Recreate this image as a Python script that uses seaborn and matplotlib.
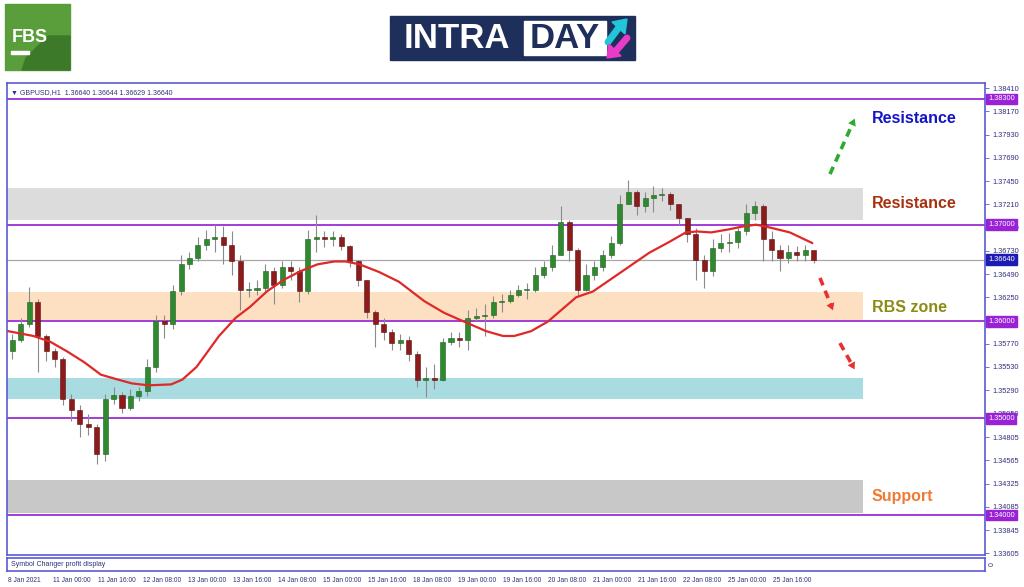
import seaborn as sns
import matplotlib.pyplot as plt
from matplotlib.patches import Rectangle, Polygon
from matplotlib.transforms import blended_transform_factory
import pandas as pd

# GBPUSD, candles (3-hour buckets), first open then closes/highs/lows
first_open = 1.3569
closes = [1.3581, 1.3597, 1.3620, 1.3585, 1.3569, 1.3561, 1.3520, 1.3509, 1.3494, 1.3491,
          1.3463, 1.3520, 1.3524, 1.3511, 1.3523, 1.3528, 1.3553, 1.3600, 1.3597, 1.3631,
          1.3659, 1.3666, 1.3679, 1.3685, 1.3687, 1.3679, 1.3662, 1.3633, 1.3633, 1.3635,
          1.3652, 1.3638, 1.3656, 1.3652, 1.3631, 1.3685, 1.3687, 1.3685, 1.3687, 1.3678,
          1.3662, 1.3643, 1.3610, 1.3597, 1.3589, 1.3578, 1.3581, 1.3566, 1.3540, 1.3542,
          1.3540, 1.3579, 1.3583, 1.3581, 1.3604, 1.3606, 1.3607, 1.3620, 1.3621, 1.3627,
          1.3633, 1.3633, 1.3648, 1.3656, 1.3669, 1.3703, 1.3674, 1.3633, 1.3648, 1.3656,
          1.3669, 1.3681, 1.3721, 1.3734, 1.3719, 1.3728, 1.3731, 1.3732, 1.3721, 1.3707,
          1.3690, 1.3664, 1.3652, 1.3676, 1.3681, 1.3682, 1.3693, 1.3712, 1.3719, 1.3685,
          1.3674, 1.3666, 1.3672, 1.3669, 1.3674, 1.3664]
highs = [1.3587, 1.3604, 1.3636, 1.3623, 1.3587, 1.3573, 1.3563, 1.3525, 1.3514, 1.3504,
         1.3494, 1.3525, 1.3532, 1.3527, 1.3530, 1.3532, 1.3561, 1.3607, 1.3607, 1.3638,
         1.3669, 1.3672, 1.3687, 1.3695, 1.3700, 1.3699, 1.3693, 1.3669, 1.3641, 1.3643,
         1.3659, 1.3656, 1.3662, 1.3662, 1.3656, 1.3695, 1.3710, 1.3693, 1.3693, 1.3690,
         1.3679, 1.3664, 1.3643, 1.3612, 1.3604, 1.3592, 1.3587, 1.3585, 1.3569, 1.3553,
         1.3556, 1.3583, 1.3589, 1.3589, 1.3612, 1.3614, 1.3618, 1.3626, 1.3628, 1.3633,
         1.3638, 1.3640, 1.3656, 1.3662, 1.3679, 1.3719, 1.3705, 1.3676, 1.3659, 1.3662,
         1.3674, 1.3688, 1.3731, 1.3746, 1.3736, 1.3734, 1.3740, 1.3738, 1.3734, 1.3721,
         1.3707, 1.3697, 1.3669, 1.3685, 1.3690, 1.3691, 1.3697, 1.3721, 1.3724, 1.3721,
         1.3693, 1.3679, 1.3679, 1.3678, 1.3679, 1.3674]
lows = [1.3561, 1.3579, 1.3594, 1.3548, 1.3559, 1.3553, 1.3514, 1.3497, 1.3481, 1.3483,
        1.3453, 1.3456, 1.3515, 1.3505, 1.3509, 1.3518, 1.3523, 1.3548, 1.3583, 1.3592,
        1.3627, 1.3654, 1.3662, 1.3674, 1.3672, 1.3659, 1.3648, 1.3612, 1.3625, 1.3627,
        1.3631, 1.3618, 1.3635, 1.3643, 1.3620, 1.3628, 1.3672, 1.3677, 1.3678, 1.3674,
        1.3656, 1.3637, 1.3604, 1.3574, 1.3581, 1.3571, 1.3571, 1.3559, 1.3532, 1.3522,
        1.3530, 1.3538, 1.3576, 1.3574, 1.3571, 1.3600, 1.3585, 1.3604, 1.3610, 1.3619,
        1.3625, 1.3623, 1.3630, 1.3645, 1.3652, 1.3669, 1.3662, 1.3625, 1.3631, 1.3643,
        1.3652, 1.3666, 1.3679, 1.3721, 1.3710, 1.3713, 1.3713, 1.3724, 1.3715, 1.3700,
        1.3682, 1.3643, 1.3635, 1.3647, 1.3672, 1.3672, 1.3676, 1.3689, 1.3705, 1.3662,
        1.3662, 1.3652, 1.3660, 1.3662, 1.3662, 1.3660]

# red moving average, read at hourly positions
ma_hours = [0, 9, 15, 21, 27, 33, 39, 44, 50, 58, 62, 67, 71, 75, 81, 86, 92, 98, 104, 110,
            116, 120, 125, 132, 139, 148, 155, 162, 170, 176, 180, 186, 192, 198, 202, 208,
            214, 221, 228, 235, 241, 245, 250, 256, 261, 266, 271, 278, 286]
ma_values = [1.3590, 1.3585, 1.3579, 1.3569, 1.3558, 1.3545, 1.3540, 1.3536, 1.3534, 1.3535,
             1.3540, 1.3553, 1.3569, 1.3585, 1.3604, 1.3615, 1.3631, 1.3643, 1.3652, 1.3659,
             1.3662, 1.3662, 1.3659, 1.3651, 1.3641, 1.3621, 1.3609, 1.3600, 1.3590, 1.3585,
             1.3585, 1.3590, 1.3600, 1.3615, 1.3625, 1.3631, 1.3643, 1.3657, 1.3671, 1.3682,
             1.3692, 1.3693, 1.3692, 1.3695, 1.3698, 1.3700, 1.3697, 1.3692, 1.3681]

xtick_labels = ["8 Jan 2021", "11 Jan 00:00", "11 Jan 16:00", "12 Jan 08:00", "13 Jan 00:00",
                "13 Jan 16:00", "14 Jan 08:00", "15 Jan 00:00", "15 Jan 16:00", "18 Jan 08:00",
                "19 Jan 00:00", "19 Jan 16:00", "20 Jan 08:00", "21 Jan 00:00", "21 Jan 16:00",
                "22 Jan 08:00", "25 Jan 00:00", "25 Jan 16:00"]
# 1.36010 sits fully under the 1.36000 level box in the reference, so it is not listed
ytick_values = [1.38410, 1.38170, 1.37930, 1.37690, 1.37450, 1.37210, 1.36970, 1.36730,
                1.36490, 1.36250, 1.35770, 1.35530, 1.35290, 1.35050, 1.34805,
                1.34565, 1.34325, 1.34085, 1.33845, 1.33605]
levels = [1.38300, 1.37000, 1.36000, 1.35000, 1.34000]
last_price = 1.36640
zone_low = [1.3705, 1.3602, 1.3520, 1.3402]
zone_high = [1.3738, 1.3630, 1.3542, 1.3436]
zone_colors = ["#dcdcdc", "#fde0c2", "#a9dce0", "#c8c8c8"]
zone_names = ["Resistance", "Resistance", "RBS zone", "Support"]
zone_name_colors = ["#1414c8", "#a8320f", "#8c8c14", "#f07a34"]
zone_name_y = [1.3810, 1.3722, 1.3614, 1.3419]

sns.set_style("white")
plt.rcParams["font.family"] = ["Liberation Sans", "DejaVu Sans"]

fig = plt.figure(figsize=(10.24, 5.87), dpi=100)
W, H = 1024, 587

def fx(px):
    return px / W

def fy(py):
    return 1 - py / H

ax = fig.add_axes([fx(7), fy(555), fx(985 - 7), (555 - 83) / H])
sub = fig.add_axes([fx(7), fy(571), fx(985 - 7), (571 - 558) / H])

frame = "#5a5ad6"
navy = "#30307a"
for a in (ax, sub):
    for s in a.spines.values():
        s.set_color(frame)
        s.set_linewidth(1.2)

# candles
opens = [first_open] + closes[:-1]
df = pd.DataFrame({"open": opens, "close": closes, "high": highs, "low": lows})
df["hour"] = [3 * i + 1.5 for i in range(len(df))]
df["up"] = df["close"] >= df["open"]
df["high"] = df[["high", "open", "close"]].max(axis=1)
df["low"] = df[["low", "open", "close"]].min(axis=1)

ax.vlines(df["hour"], df["low"], df["high"], color="#8a8a8a", lw=0.8, zorder=3)
body_lo = df[["open", "close"]].min(axis=1)
body_h = (df["close"] - df["open"]).abs().clip(lower=0.00004)
ax.bar(df["hour"], body_h, bottom=body_lo, width=1.8,
       color=["#2f8a2f" if u else "#8c1c1c" for u in df["up"]],
       edgecolor=["#1f5f1f" if u else "#5a1010" for u in df["up"]], lw=0.4, zorder=4)

sns.lineplot(x=ma_hours, y=ma_values, color="#e02828", lw=1.6, ax=ax, zorder=5)

# zones
for lo, hi, c in zip(zone_low, zone_high, zone_colors):
    ax.axhspan(lo, hi, xmin=0, xmax=(863 - 7) / 978, color=c, lw=0, zorder=1)

# levels and current price
for lv in levels:
    ax.axhline(lv, color="#a23cd8", lw=1.4, zorder=2)
ax.axhline(last_price, color="#a8a8a8", lw=0.9, zorder=2)

ax.set_xlim(-0.4, 347.4)
ax.set_ylim(1.33587, 1.38464)
ax.set_xticks([])
ax.yaxis.tick_right()
ax.set_yticks(ytick_values)
ax.set_yticklabels([f"{v:.5f}" for v in ytick_values])
ax.tick_params(axis="y", direction="out", length=3, width=0.6, color=frame,
               labelsize=5.3, labelcolor=navy, pad=2, right=True)

trans = blended_transform_factory(ax.transAxes, ax.transData)
for lv in levels:
    ax.text(1.003, lv, f"{lv:.5f}", transform=trans, fontsize=5.3, color="white",
            va="center", ha="left", zorder=10, clip_on=False,
            bbox=dict(boxstyle="square,pad=0.25", fc="#9a22d6", ec="#9a22d6"))
ax.text(1.003, last_price, f"{last_price:.5f}", transform=trans, fontsize=5.3, color="white",
        va="center", ha="left", zorder=10, clip_on=False,
        bbox=dict(boxstyle="square,pad=0.25", fc="#1c1cb4", ec="#1c1cb4"))

ax.text(0.004, 0.988, "\u25bc GBPUSD,H1  1.36640 1.36644 1.36629 1.36640", transform=ax.transAxes,
        fontsize=5, color=navy, va="top", ha="left", family=["Liberation Sans", "DejaVu Sans"])

# zone names
for name, c, yv in zip(zone_names, zone_name_colors, zone_name_y):
    ax.text(0.884, yv, name, transform=trans, fontsize=11.5, fontweight="bold",
            color=c, va="center", ha="left", zorder=10)

# dashed arrows
arrows = [((0.8415, 0.807), (0.868, 0.930), "#2eaa2e"),
          ((0.8313, 0.587), (0.8456, 0.513), "#e83030"),
          ((0.8517, 0.449), (0.8681, 0.388), "#e83030")]
for (x0, y0), (x1, y1), c in arrows:
    ax.plot([x0, x0 + (x1 - x0) * 0.8], [y0, y0 + (y1 - y0) * 0.8], transform=ax.transAxes,
            color=c, lw=2.6, ls=(0, (2.2, 1.6)), zorder=9, solid_capstyle="butt")
    ax.annotate("", xy=(x1, y1), xytext=(x0 + (x1 - x0) * 0.75, y0 + (y1 - y0) * 0.75),
                xycoords="axes fraction", textcoords="axes fraction",
                arrowprops=dict(arrowstyle="-|>,head_length=0.5,head_width=0.3", color=c, lw=0),
                zorder=9)

# sub panel with x labels
sub.set_xlim(ax.get_xlim())
sub.set_ylim(0, 1)
sub.set_yticks([])
sub.set_xticks([16 * i for i in range(len(xtick_labels))])
sub.set_xticklabels(xtick_labels, ha="left")
sub.tick_params(axis="x", direction="out", length=3, width=0.6, color=frame,
                labelsize=4.8, labelcolor=navy, pad=1)
sub.text(0.004, 0.5, "Symbol Changer profit display", transform=sub.transAxes,
         fontsize=5, color=navy, va="center", ha="left")
sub.text(1.004, 0.5, "0", transform=sub.transAxes, fontsize=5, color=navy,
         va="center", ha="left", rotation=90)

# FBS logo
fig.add_artist(Rectangle((fx(5), fy(70)), fx(65), 66 / H, transform=fig.transFigure,
                         color="#5a9e3c", zorder=1))
fig.add_artist(Polygon([(fx(22), fy(70)), (fx(70), fy(70)), (fx(70), fy(36)), (fx(48), fy(36)), (fx(26), fy(58))],
                       closed=True, transform=fig.transFigure, color="#3c7a2a", zorder=1))
fig.text(fx(30), fy(37), "FBS", fontsize=13, fontweight="bold", color="white",
         ha="center", va="center", zorder=3)
fig.add_artist(Rectangle((fx(11), fy(54)), fx(18), 3 / H, transform=fig.transFigure,
                         color="white", zorder=3))

# INTRADAY logo
fig.add_artist(Rectangle((fx(390), fy(60)), fx(245), 44 / H, transform=fig.transFigure,
                         color="#1e2f5c", zorder=1))
fig.add_artist(Rectangle((fx(524), fy(55)), fx(82), 34 / H, transform=fig.transFigure,
                         color="white", zorder=2))
fig.text(fx(457), fy(38), "INTRA", fontsize=25, fontweight="bold", color="white",
         ha="center", va="center", zorder=3)
fig.text(fx(565), fy(38), "DAY", fontsize=25, fontweight="bold", color="#1e2f5c",
         ha="center", va="center", zorder=3)
fig.add_artist(plt.Line2D([fx(608), fx(620)], [fy(42), fy(26)], transform=fig.transFigure,
                          color="#22c6d8", lw=5, zorder=3))
fig.add_artist(Polygon([(fx(612), fy(22)), (fx(627), fy(19)), (fx(625), fy(34))], closed=True,
                       transform=fig.transFigure, color="#22c6d8", zorder=3))
fig.add_artist(plt.Line2D([fx(627), fx(615)], [fy(38), fy(52)], transform=fig.transFigure,
                          color="#e83cc8", lw=5, zorder=3))
fig.add_artist(Polygon([(fx(609), fy(44)), (fx(607), fy(58)), (fx(621), fy(56))], closed=True,
                       transform=fig.transFigure, color="#e83cc8", zorder=3))

fig.savefig("out.png", dpi=100)
